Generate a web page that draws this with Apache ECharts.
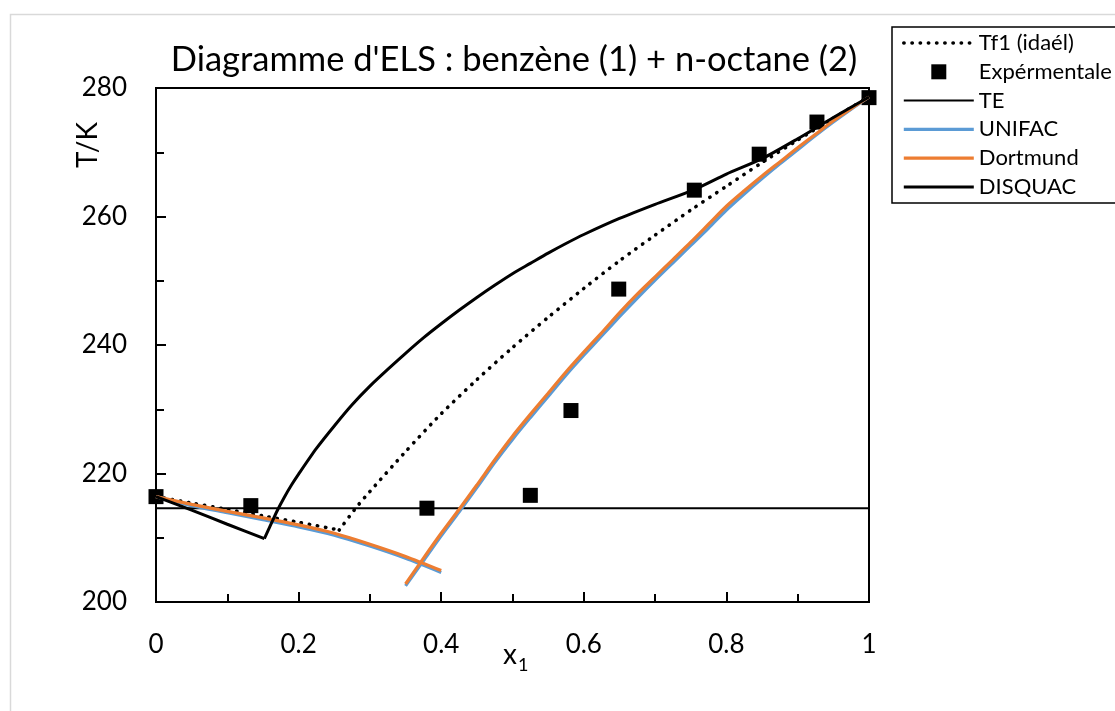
<!DOCTYPE html>
<html>
<head>
<meta charset="utf-8">
<script src="https://cdn.jsdelivr.net/npm/echarts@6/dist/echarts.min.js"></script>
<style>html,body{margin:0;padding:0;background:#fff;}#chart{width:1115px;height:711px;}</style>
</head>
<body>
<div id="chart"></div>
<script>
const titleText = "Diagramme d'ELS : benzène (1) + n-octane (2)";
const seriesNames = ['Tf1 (idaél)', 'Expérmentale', 'TE', 'UNIFAC', 'Dortmund', 'DISQUAC'];
const xTickLabels = ['0', '0.2', '0.4', '0.6', '0.8', '1'];
const yTickLabels = ['200', '220', '240', '260', '280'];

const tf1Left = [[0,216.4],[0.05,215.4],[0.1,214.4],[0.15,213.4],[0.2,212.4],[0.257,211.2]];
const tf1Right = [[0.257,211.2],[0.28,214.6],[0.3,217.2],[0.35,223.4],[0.4,229.3],[0.45,234.6],[0.5,239.6],[0.55,244.3],[0.6,248.8],[0.65,253.1],[0.7,257.1],[0.75,261.0],[0.8,264.7],[0.85,268.4],[0.9,271.9],[0.95,275.3],[1,278.6]];
const expX = [0, 0.133, 0.380, 0.525, 0.582, 0.649, 0.755, 0.846, 0.927, 1];
const expT = [216.4, 215.0, 214.6, 216.6, 229.8, 248.7, 264.1, 269.7, 274.7, 278.5];
const teLine = [[0,214.6],[1,214.6]];
const unifacLeft = [[0,216.4],[0.05,215.0],[0.1,213.9],[0.15,212.8],[0.2,211.7],[0.25,210.4],[0.3,208.7],[0.35,206.8],[0.4,204.6]];
const unifacRight = [[0.35,202.5],[0.375,206.4],[0.4,210.3],[0.425,214.0],[0.45,217.8],[0.475,221.7],[0.5,225.3],[0.525,228.7],[0.55,232.0],[0.575,235.3],[0.6,238.4],[0.625,241.4],[0.65,244.4],[0.675,247.3],[0.7,250.1],[0.725,252.8],[0.75,255.5],[0.775,258.2],[0.8,261.0],[0.825,263.5],[0.85,265.9],[0.875,268.2],[0.9,270.4],[0.925,272.6],[0.95,274.7],[0.975,276.7],[1,278.6]];
const dortmundLeft = [[0,216.4],[0.05,215.2],[0.1,214.1],[0.15,213.1],[0.2,212.0],[0.25,210.7],[0.3,209.0],[0.35,207.1],[0.4,204.9]];
const dortmundRight = [[0.35,202.8],[0.375,206.8],[0.4,210.7],[0.425,214.4],[0.45,218.2],[0.475,222.1],[0.5,225.8],[0.525,229.2],[0.55,232.5],[0.575,235.8],[0.6,238.9],[0.625,241.9],[0.65,245.0],[0.675,247.9],[0.7,250.6],[0.725,253.3],[0.75,256.0],[0.775,258.8],[0.8,261.6],[0.825,264.0],[0.85,266.3],[0.875,268.5],[0.9,270.7],[0.925,272.8],[0.95,274.9],[0.975,276.8],[1,278.6]];
const disquacLeft = [[0,216.4],[0.05,214.3],[0.1,212.1],[0.152,209.85]];
const disquacRight = [[0.152,209.85],[0.16,211.8],[0.17,214.2],[0.18,216.3],[0.19,218.2],[0.2,219.9],[0.225,223.9],[0.25,227.4],[0.275,230.7],[0.3,233.6],[0.325,236.2],[0.35,238.7],[0.375,241.1],[0.4,243.3],[0.425,245.4],[0.45,247.4],[0.475,249.3],[0.5,251.1],[0.525,252.7],[0.55,254.3],[0.575,255.8],[0.6,257.2],[0.65,259.7],[0.7,261.9],[0.755,264.2],[0.8,266.6],[0.85,269.0],[0.9,272.1],[0.95,275.4],[1,278.6]];

const FONT = 'Lato';
const BLUE = '#5B9BD5', ORANGE = '#ED7D31';

const chart = echarts.init(document.getElementById('chart'), null, {renderer: 'canvas'});
const expData = expX.map((x, i) => [x, expT[i]]);

const axisCommon = {
  axisLine: {show: true, onZero: false, lineStyle: {color: '#000', width: 2}},
  axisTick: {show: true, inside: true, length: 10, lineStyle: {color: '#000', width: 2}},
  minorTick: {show: true, splitNumber: 2, length: 8, lineStyle: {color: '#000', width: 2}},
  splitLine: {show: false},
  minorSplitLine: {show: false}
};

const dotStyle = {color: '#000', width: 3.6, type: [0.3, 7.9], cap: 'round'};
const teStyle = {color: '#000', width: 2};
const blueStyle = {color: BLUE, width: 3.2};
const orangeStyle = {color: ORANGE, width: 3.2};
const disqStyle = {color: '#000', width: 3};
const legendLineStyles = [dotStyle, null, teStyle, blueStyle, orangeStyle, disqStyle];
const legendData = seriesNames.map((n, i) => i === 1
  ? {name: n, icon: 'path://M0,0L10,0L10,10L0,10Z', itemStyle: {color: '#000', opacity: 1}}
  : {name: n, itemStyle: {opacity: 0}, lineStyle: legendLineStyles[i]});

function curve(name, data, style, color) {
  return {name: name, type: 'line', data: data, symbol: 'none', color: color, lineStyle: style, smooth: 0.25};
}

chart.setOption({
  backgroundColor: '#fff',
  animation: false,
  title: {
    text: titleText,
    left: 514, top: 42, textAlign: 'center', padding: 0,
    textStyle: {fontFamily: FONT, fontSize: 34.5, fontWeight: 'normal', color: '#000'}
  },
  grid: {left: 156, right: 246, top: 88, bottom: 109, show: true, borderColor: '#000', borderWidth: 2, backgroundColor: 'transparent'},
  legend: {
    orient: 'vertical', left: 892, top: 27,
    padding: [5, 4, 5, 10], itemGap: 6.8, itemWidth: 70, itemHeight: 15,
    borderColor: '#000', borderWidth: 1.5, backgroundColor: '#fff',
    textStyle: {fontFamily: FONT, fontSize: 22, lineHeight: 20, color: '#000'},
    data: legendData
  },
  xAxis: Object.assign({
    type: 'value', min: 0, max: 1, interval: 0.2,
    axisLabel: {margin: 30, fontFamily: FONT, fontSize: 26, color: '#000', formatter: v => xTickLabels[Math.round(v / 0.2)]}
  }, axisCommon),
  yAxis: Object.assign({
    type: 'value', min: 200, max: 280, interval: 20,
    axisLabel: {margin: 29, fontFamily: FONT, fontSize: 26, color: '#000', formatter: v => yTickLabels[Math.round((v - 200) / 20)]}
  }, axisCommon),
  graphic: [
    {type: 'rect', silent: true, z: -10, shape: {x: 10.5, y: 14.5, width: 1200, height: 800}, style: {fill: 'none', stroke: '#d9d9d9', lineWidth: 1.5}},
    {type: 'text', x: 88, y: 145, rotation: Math.PI / 2, style: {text: 'T/K', fontFamily: FONT, fontSize: 28, fill: '#000', align: 'center', verticalAlign: 'middle'}},
    {type: 'text', x: 517, y: 655, style: {text: 'x', fontFamily: FONT, fontSize: 28, fill: '#000', align: 'right', verticalAlign: 'middle'}},
    {type: 'text', x: 518, y: 665, style: {text: '1', fontFamily: FONT, fontSize: 18, fill: '#000', align: 'left', verticalAlign: 'middle'}}
  ],
  series: [
    curve(seriesNames[0], tf1Left, dotStyle, '#000'),
    curve(seriesNames[0], tf1Right, dotStyle, '#000'),
    {name: seriesNames[1], type: 'scatter', data: expData, symbol: 'rect', symbolSize: 15, itemStyle: {color: '#000', opacity: 1}},
    {name: seriesNames[2], type: 'line', data: teLine, symbol: 'none', color: '#000', lineStyle: teStyle},
    curve(seriesNames[3], unifacLeft, blueStyle, BLUE),
    curve(seriesNames[3], unifacRight, blueStyle, BLUE),
    curve(seriesNames[4], dortmundLeft, orangeStyle, ORANGE),
    curve(seriesNames[4], dortmundRight, orangeStyle, ORANGE),
    curve(seriesNames[5], disquacLeft, disqStyle, '#000'),
    curve(seriesNames[5], disquacRight, disqStyle, '#000')
  ]
});
</script>
</body>
</html>
